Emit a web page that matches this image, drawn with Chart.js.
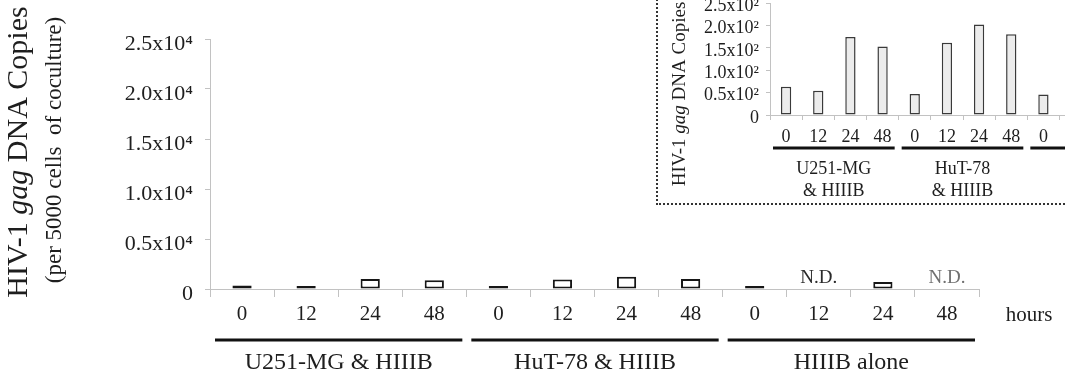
<!DOCTYPE html>
<html>
<head>
<meta charset="utf-8">
<script src="https://cdn.jsdelivr.net/npm/chart.js@4.4.0/dist/chart.umd.min.js"></script>
<style>
  html, body { margin: 0; padding: 0; background: #fff; }
  body { width: 1065px; height: 384px; overflow: hidden; position: relative; }
  #main { position: absolute; left: 0; top: 0; }
  #insetBox { position: absolute; left: 656px; top: -10px; width: 620px; height: 211px;
              border: 2px dotted #333; background: #fff; }
  #inset { position: absolute; left: 660px; top: -20px; }
</style>
</head>
<body>
<canvas id="main" width="1065" height="384"></canvas>
<div id="insetBox"></div>
<canvas id="inset" width="520" height="225"></canvas>
<script>
const hours = ['0', '12', '24', '48'];
const groups = ['U251-MG & HIIIB', 'HuT-78 & HIIIB', 'HIIIB alone'];
const insetGroups = [['U251-MG', '& HIIIB'], ['HuT-78', '& HIIIB'], ['HIIIB', 'alone']];

// copies per 5000 cells of coculture, null = N.D.
const u251Main = [350, 300, 1000, 880];
const hutMain = [300, 950, 1230, 1000];
const hiiibMain = [300, null, 700, null];

// inset (x10^2 scale)
const u251Inset = [63, 54, 174, 153];
const hutInset = [47, 161, 202, 180];
const hiiibInset = [46, null, 120, null];

const mainTicks = [0, 5000, 10000, 15000, 20000, 25000];
const insetTicks = [0, 50, 100, 150, 200, 250];

const serif = "'Liberation Serif', 'Times New Roman', serif";
const textColor = '#1e1e1e';
const axisColor = '#c2c2c2';

const labels = groups.flatMap(() => hours);

// rotated axis title with "gag" in italics
function drawTitle(ctx, x, y, size) {
  const parts = [['HIV-1 ', ''], ['gag', 'italic '], [' DNA Copies', '']];
  ctx.save();
  ctx.translate(x, y);
  ctx.rotate(-Math.PI / 2);
  ctx.textBaseline = 'middle';
  ctx.fillStyle = textColor;
  let total = 0;
  parts.forEach(p => { ctx.font = p[1] + size + 'px ' + serif; total += ctx.measureText(p[0]).width; });
  let cx = -total / 2;
  parts.forEach(p => {
    ctx.font = p[1] + size + 'px ' + serif;
    ctx.fillText(p[0], cx, 0);
    cx += ctx.measureText(p[0]).width;
  });
  ctx.restore();
}

// group bars + names under the hour labels
function drawGroups(chart, o) {
  const ctx = chart.ctx;
  const xs = chart.scales.x;
  const half = (xs.getPixelForValue(1) - xs.getPixelForValue(0)) / 2;
  ctx.save();
  ctx.fillStyle = textColor;
  ctx.strokeStyle = '#111';
  ctx.lineWidth = 3;
  ctx.textAlign = 'center';
  ctx.textBaseline = 'middle';
  o.names.forEach((name, g) => {
    const a = xs.getPixelForValue(g * hours.length) - half + o.gapL;
    const b = xs.getPixelForValue(g * hours.length + hours.length - 1) + half - o.gapR;
    ctx.beginPath();
    ctx.moveTo(a, o.lineY);
    ctx.lineTo(b, o.lineY);
    ctx.stroke();
    ctx.font = o.size + 'px ' + serif;
    const lines = Array.isArray(name) ? name : [name];
    lines.forEach((t, i) => ctx.fillText(t, (a + b) / 2, o.textY + i * o.lineH));
  });
  ctx.restore();
}

const mainDecor = {
  id: 'mainDecor',
  afterDraw(chart) {
    const ctx = chart.ctx;
    drawTitle(ctx, 19, 152, 30);
    ctx.save();
    ctx.translate(55, 150);
    ctx.rotate(-Math.PI / 2);
    ctx.font = '23px ' + serif;
    ctx.fillStyle = textColor;
    ctx.textAlign = 'center';
    ctx.textBaseline = 'middle';
    ctx.fillText('(per 5000 cells  of coculture)', 0, 0);
    ctx.restore();

    drawGroups(chart, { names: groups, lineY: 340, textY: 363, lineH: 0, size: 24, gapL: 5, gapR: 4 });

    // N.D. marks and hours label
    const xs = chart.scales.x, ys = chart.scales.y;
    const vals = chart.data.datasets[0].data;
    ctx.save();
    ctx.font = '19px ' + serif;
    ctx.textAlign = 'center';
    ctx.textBaseline = 'middle';
    let n = 0;
    vals.forEach((v, i) => {
      if (v === null) {
        ctx.fillStyle = n === 0 ? '#2a2a2a' : '#707070';
        ctx.fillText('N.D.', xs.getPixelForValue(i), ys.getPixelForValue(0) - 11);
        n++;
      }
    });
    ctx.font = '21px ' + serif;
    ctx.fillStyle = textColor;
    ctx.fillText('hours', 1029, 315);
    ctx.restore();
  }
};

const insetDecor = {
  id: 'insetDecor',
  afterDraw(chart) {
    drawTitle(chart.ctx, 20, 114, 19);
    drawGroups(chart, { names: insetGroups, lineY: 168, textY: 189, lineH: 22, size: 18, gapL: 3, gapR: 4 });
  }
};

new Chart(document.getElementById('main'), {
  type: 'bar',
  data: {
    labels: labels,
    datasets: [{
      data: [...u251Main, ...hutMain, ...hiiibMain],
      backgroundColor: '#ffffff',
      borderColor: '#161616',
      borderWidth: 2,
      borderSkipped: false,
      barPercentage: 0.3,
      categoryPercentage: 1
    }]
  },
  options: {
    responsive: false,
    animation: false,
    layout: { padding: { top: 39, right: 86, bottom: 0, left: 0 } },
    plugins: { legend: { display: false }, tooltip: { enabled: false } },
    scales: {
      x: {
        grid: { drawOnChartArea: false, tickLength: 8, color: axisColor },
        border: { color: axisColor },
        ticks: { color: textColor, font: { family: serif, size: 21 }, padding: 5, maxRotation: 0, autoSkip: false },
        afterFit: s => { s.height = 95; }
      },
      y: {
        min: 0,
        max: 25000,
        afterBuildTicks: s => { s.ticks = mainTicks.map(v => ({ value: v })); },
        grid: { drawOnChartArea: false, tickLength: 5, color: axisColor },
        border: { color: axisColor },
        ticks: {
          color: textColor,
          font: { family: serif, size: 22 },
          padding: 12,
          labelOffset: 5,
          autoSkip: false,
          callback: v => v === 0 ? '0' : (v / 10000).toFixed(1) + 'x10⁴'
        },
        afterFit: s => { s.width = 210; }
      }
    }
  },
  plugins: [mainDecor]
});

new Chart(document.getElementById('inset'), {
  type: 'bar',
  data: {
    labels: labels,
    datasets: [{
      data: [...u251Inset, ...hutInset, ...hiiibInset],
      backgroundColor: '#ececec',
      borderColor: '#3a3a3a',
      borderWidth: 1.5,
      borderSkipped: false,
      barPercentage: 0.32,
      categoryPercentage: 1
    }]
  },
  options: {
    responsive: false,
    animation: false,
    layout: { padding: { top: 23, right: 24, bottom: 0, left: 0 } },
    plugins: { legend: { display: false }, tooltip: { enabled: false } },
    scales: {
      x: {
        grid: { drawOnChartArea: false, tickLength: 5, color: axisColor },
        border: { color: axisColor },
        ticks: { color: textColor, font: { family: serif, size: 18 }, padding: 6, maxRotation: 0, autoSkip: false },
        afterFit: s => { s.height = 90; }
      },
      y: {
        min: 0,
        max: 250,
        afterBuildTicks: s => { s.ticks = insetTicks.map(v => ({ value: v })); },
        grid: { drawOnChartArea: false, tickLength: 4, color: axisColor },
        border: { color: axisColor },
        ticks: {
          color: textColor,
          font: { family: serif, size: 18 },
          padding: 7,
          labelOffset: 3,
          autoSkip: false,
          callback: v => v === 0 ? '0' : (v / 100).toFixed(1) + 'x10²'
        },
        afterFit: s => { s.width = 110; }
      }
    }
  },
  plugins: [insetDecor]
});
</script>
</body>
</html>
